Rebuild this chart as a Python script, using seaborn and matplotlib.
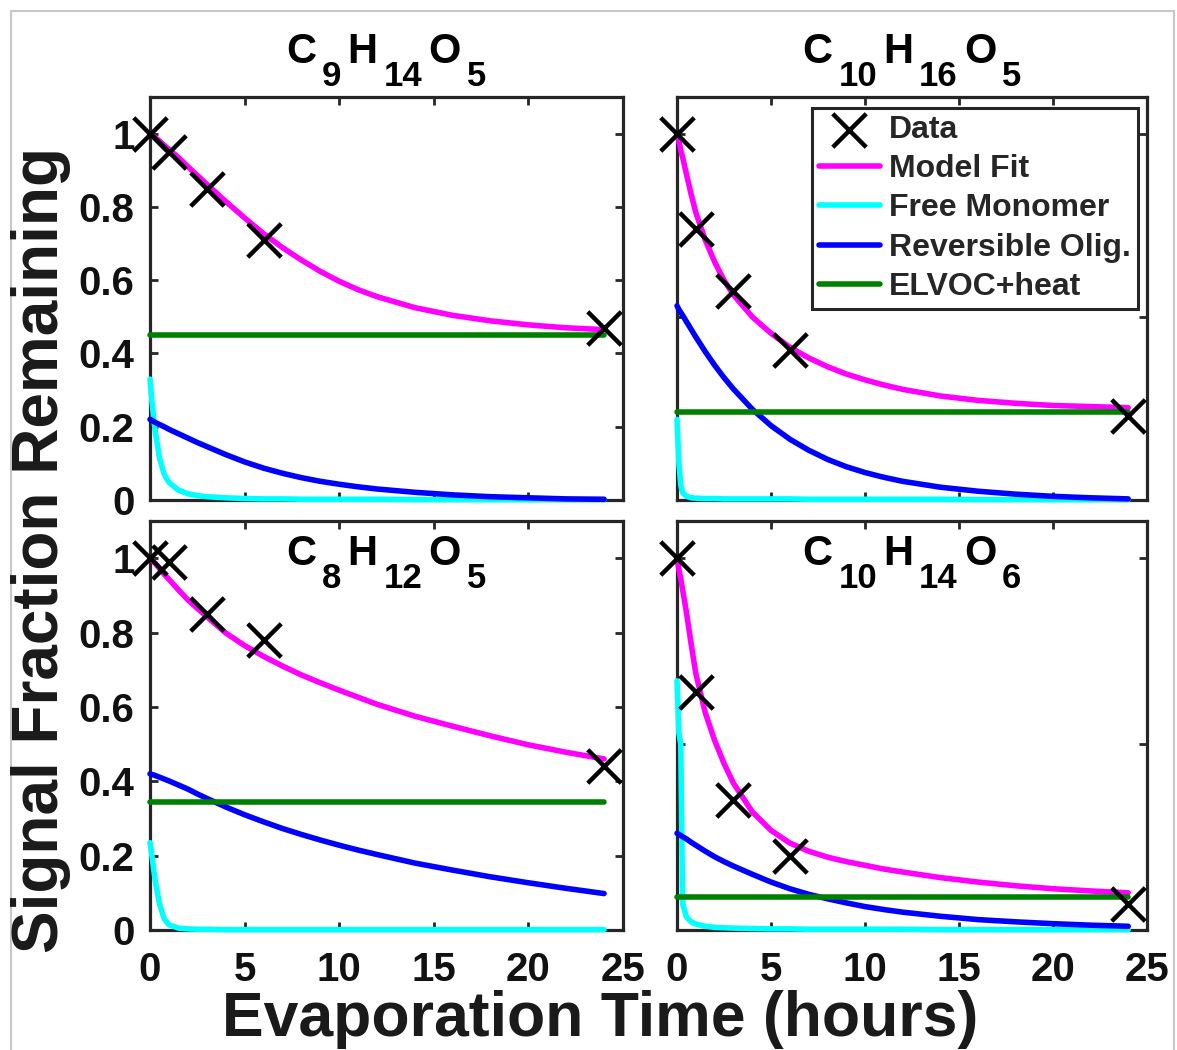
import numpy as np
import pandas as pd
import seaborn as sns
import matplotlib
matplotlib.use("Agg")
import matplotlib.pyplot as plt
from matplotlib.transforms import IdentityTransform
from matplotlib.patches import Rectangle

# ---------------- data ----------------
time_h = [0, 0.05, 0.1, 0.2, 0.3, 0.5, 0.75, 1, 1.5, 2, 2.5, 3, 4, 5, 6, 7, 8, 9, 10, 11, 12,
          14, 16, 18, 20, 22, 24]
data_t = [0, 1, 3, 6, 24]

# C9H14O5 (top-left)
c9_data = [1.0, 0.95, 0.85, 0.71, 0.47]
c9_fit = [1.0, 0.998, 0.996, 0.992, 0.988, 0.98, 0.968, 0.957, 0.935, 0.91, 0.886, 0.862, 0.815,
          0.77, 0.727, 0.689, 0.655, 0.624, 0.597, 0.574, 0.555, 0.525, 0.504, 0.489, 0.478, 0.47, 0.465]
c9_mono = [0.33, 0.30, 0.27, 0.22, 0.18, 0.115, 0.07, 0.048, 0.027, 0.017, 0.012, 0.009, 0.006,
           0.004, 0.003, 0.003, 0.002, 0.002, 0.002, 0.002, 0.002, 0.001, 0.001, 0.001, 0.001, 0.001, 0.001]
c9_olig = [0.22, 0.219, 0.217, 0.214, 0.211, 0.206, 0.2, 0.193, 0.181, 0.169, 0.157, 0.146, 0.124,
           0.104, 0.087, 0.073, 0.061, 0.051, 0.043, 0.036, 0.03, 0.021, 0.014, 0.009, 0.006, 0.003, 0.002]
c9_elvoc = 0.45

# C10H16O5 (top-right)
c10o5_data = [1.0, 0.74, 0.57, 0.41, 0.23]
c10o5_fit = [1.0, 0.99, 0.98, 0.955, 0.935, 0.89, 0.835, 0.785, 0.71, 0.65, 0.60, 0.56, 0.50,
             0.455, 0.417, 0.388, 0.364, 0.344, 0.328, 0.314, 0.302, 0.284, 0.272, 0.264, 0.258, 0.255, 0.252]
c10o5_mono = [0.22, 0.16, 0.10, 0.04, 0.02, 0.01, 0.006, 0.005, 0.004, 0.004, 0.003, 0.003, 0.003,
              0.003, 0.003, 0.002, 0.002, 0.002, 0.002, 0.002, 0.002, 0.002, 0.001, 0.001, 0.001, 0.001, 0.001]
c10o5_olig = [0.53, 0.525, 0.52, 0.512, 0.504, 0.487, 0.466, 0.445, 0.405, 0.368, 0.334, 0.303, 0.248,
              0.203, 0.166, 0.136, 0.111, 0.091, 0.075, 0.062, 0.051, 0.035, 0.024, 0.016, 0.01, 0.006, 0.003]
c10o5_elvoc = 0.24

# C8H12O5 (bottom-left)
c8_data = [1.0, 0.99, 0.85, 0.78, 0.44]
c8_fit = [1.0, 0.998, 0.995, 0.99, 0.985, 0.972, 0.957, 0.943, 0.915, 0.888, 0.865, 0.843, 0.799,
          0.765, 0.736, 0.71, 0.686, 0.665, 0.645, 0.626, 0.607, 0.575, 0.548, 0.522, 0.498, 0.478, 0.46]
c8_mono = [0.235, 0.22, 0.2, 0.16, 0.125, 0.07, 0.03, 0.014, 0.005, 0.003, 0.002, 0.002, 0.001,
           0.001, 0.001, 0.001, 0.001, 0.001, 0.001, 0.001, 0.001, 0.001, 0.001, 0.001, 0.001, 0.001, 0.001]
c8_olig = [0.42, 0.419, 0.418, 0.417, 0.415, 0.411, 0.406, 0.401, 0.39, 0.379, 0.366, 0.354, 0.331,
           0.31, 0.291, 0.273, 0.257, 0.242, 0.228, 0.215, 0.203, 0.18, 0.161, 0.143, 0.127, 0.112, 0.098]
c8_elvoc = 0.345

# C10H14O6 (bottom-right)
c10o6_data = [1.0, 0.64, 0.35, 0.20, 0.07]
c10o6_fit = [1.0, 0.985, 0.97, 0.945, 0.915, 0.855, 0.77, 0.69, 0.585, 0.51, 0.448, 0.395, 0.318,
             0.268, 0.234, 0.212, 0.196, 0.184, 0.174, 0.164, 0.156, 0.141, 0.129, 0.119, 0.111, 0.105, 0.10]
c10o6_mono = [0.67, 0.60, 0.53, 0.50, 0.07, 0.035, 0.022, 0.016, 0.01, 0.007, 0.006, 0.005, 0.004,
              0.003, 0.003, 0.002, 0.002, 0.002, 0.002, 0.002, 0.002, 0.001, 0.001, 0.001, 0.001, 0.001, 0.001]
c10o6_olig = [0.26, 0.258, 0.257, 0.254, 0.251, 0.245, 0.236, 0.228, 0.212, 0.197, 0.184, 0.172, 0.15,
              0.129, 0.111, 0.096, 0.084, 0.073, 0.063, 0.055, 0.048, 0.037, 0.028, 0.022, 0.017, 0.013, 0.01]
c10o6_elvoc = 0.09

titles = {
    "tl": [("C", 0), ("9", 1), ("H", 0), ("14", 1), ("O", 0), ("5", 1)],
    "tr": [("C", 0), ("10", 1), ("H", 0), ("16", 1), ("O", 0), ("5", 1)],
    "bl": [("C", 0), ("8", 1), ("H", 0), ("12", 1), ("O", 0), ("5", 1)],
    "br": [("C", 0), ("10", 1), ("H", 0), ("14", 1), ("O", 0), ("6", 1)],
}
series_labels = ["Data", "Model Fit", "Free Monomer", "Reversible Olig.", "ELVOC+heat"]
x_ticks = [0, 5, 10, 15, 20, 25]
x_ticklabels = ["0", "5", "10", "15", "20", "25"]
y_ticks_left = [0, 0.2, 0.4, 0.6, 0.8, 1.0]
y_ticklabels_left = ["0", "0.2", "0.4", "0.6", "0.8", "1"]
y_ticks_right = [0, 0.5, 1.0]

# ---------------- style ----------------
sns.set_style("ticks")
plt.rcParams["font.family"] = ["Liberation Sans", "DejaVu Sans"]
plt.rcParams["font.weight"] = "bold"

FW, FH = 1177, 1050
fig = plt.figure(figsize=(FW / 100, FH / 100), dpi=100)
fig.patch.set_facecolor("white")

AX_COL = "#262626"
C_FIT, C_MONO, C_OLIG, C_ELV = "#FF00FF", "#00FFFF", "#0000FF", "#008000"


def px_axes(l, t, r, b):
    return fig.add_axes([l / FW, 1 - b / FH, (r - l) / FW, (b - t) / FH])


panels = {
    "tl": (px_axes(150, 97, 623, 500), c9_data, c9_fit, c9_mono, c9_olig, c9_elvoc),
    "tr": (px_axes(677, 97, 1147, 500), c10o5_data, c10o5_fit, c10o5_mono, c10o5_olig, c10o5_elvoc),
    "bl": (px_axes(150, 521, 623, 930), c8_data, c8_fit, c8_mono, c8_olig, c8_elvoc),
    "br": (px_axes(677, 521, 1147, 930), c10o6_data, c10o6_fit, c10o6_mono, c10o6_olig, c10o6_elvoc),
}

LW = 4.0
for key, (ax, dat, fit, mono, olig, elv) in panels.items():
    sns.lineplot(x=time_h, y=fit, ax=ax, color=C_FIT, linewidth=LW, label="Model Fit",
                 legend=False, zorder=3, clip_on=False)
    sns.lineplot(x=time_h, y=mono, ax=ax, color=C_MONO, linewidth=LW, label="Free Monomer",
                 legend=False, zorder=3, clip_on=False)
    sns.lineplot(x=time_h, y=olig, ax=ax, color=C_OLIG, linewidth=LW, label="Reversible Olig.",
                 legend=False, zorder=3, clip_on=False)
    sns.lineplot(x=[time_h[0], time_h[-1]], y=[elv, elv], ax=ax, color=C_ELV, linewidth=LW,
                 label="ELVOC+heat", legend=False, zorder=3, clip_on=False)
    sns.scatterplot(x=data_t, y=dat, ax=ax, marker="x", s=580, color="black", linewidth=3.2,
                    label="Data", legend=False, zorder=4, clip_on=False)

    ax.set_xlim(0, 25)
    ax.set_ylim(0, 1.1)
    ax.set_xlabel("")
    ax.set_ylabel("")
    for sp in ax.spines.values():
        sp.set_visible(True)
        sp.set_linewidth(2.3)
        sp.set_color(AX_COL)
    ax.tick_params(direction="in", top=True, right=True, length=6, width=2,
                   color=AX_COL, labelcolor="#111111", labelsize=29)
    ax.tick_params(axis="x", pad=15)
    ax.tick_params(axis="y", pad=11)
    ax.set_xticks(x_ticks)
    if key in ("bl", "br"):
        ax.set_xticklabels(x_ticklabels, fontweight="bold")
    else:
        ax.set_xticklabels([])
    if key in ("tl", "bl"):
        ax.set_yticks(y_ticks_left)
        ax.set_yticklabels(y_ticklabels_left, fontweight="bold")
    else:
        ax.set_yticks(y_ticks_right)
        ax.set_yticklabels([])
    ax.set_facecolor("white")

# legend in top-right panel
ax_tr = panels["tr"][0]
h, l = ax_tr.get_legend_handles_labels()
hm = dict(zip(l, h))
leg = ax_tr.legend([hm[s] for s in series_labels], series_labels, loc="upper right",
                   bbox_to_anchor=(0.981, 0.973), borderaxespad=0, fontsize=23,
                   handlelength=1.9, handletextpad=0.3, labelspacing=0.29, borderpad=0.22,
                   fancybox=False, framealpha=1, edgecolor=AX_COL)
leg.get_frame().set_linewidth(2.2)
for t in leg.get_texts():
    t.set_fontweight("bold")
leg.set_zorder(10)

# formula titles drawn piece by piece (MATLAB-like subscripts)
renderer = fig.canvas.get_renderer()


def draw_formula(pieces, cx, base_px):
    arts = []
    for s, sub in pieces:
        t = fig.text(0, 0, s, fontsize=25 if sub else 30, fontweight="bold", color="black",
                     transform=IdentityTransform(), ha="left", va="baseline")
        arts.append((t, sub))
    widths = [t.get_window_extent(renderer).width for t, _ in arts]
    gap = 6
    total = sum(widths) + gap * (len(arts) - 1)
    x = cx - total / 2
    for (t, sub), w in zip(arts, widths):
        t.set_position((x, FH - (base_px + (23 if sub else 0))))
        x += w + gap


draw_formula(titles["tl"], 386, 63)
draw_formula(titles["tr"], 912, 63)
draw_formula(titles["bl"], 386, 565)
draw_formula(titles["br"], 912, 565)

# shared axis labels
fig.text(58, FH - 550, "Signal Fraction Remaining", fontsize=46, fontweight="bold", color="#1a1a1a",
         rotation=90, rotation_mode="anchor", ha="center", va="baseline",
         transform=IdentityTransform())
fig.text(600, FH - 1036, "Evaporation Time (hours)", fontsize=45, fontweight="bold", color="#1a1a1a",
         ha="center", va="baseline", transform=IdentityTransform())

# light outer frame
fig.patches.append(Rectangle((11 / FW, -0.01), (1174 - 11) / FW, 1 - 11 / FH + 0.01, fill=False,
                             edgecolor="#c8c8c8", linewidth=1.5, transform=fig.transFigure,
                             figure=fig))

fig.savefig("out.png", dpi=100, facecolor="white")
